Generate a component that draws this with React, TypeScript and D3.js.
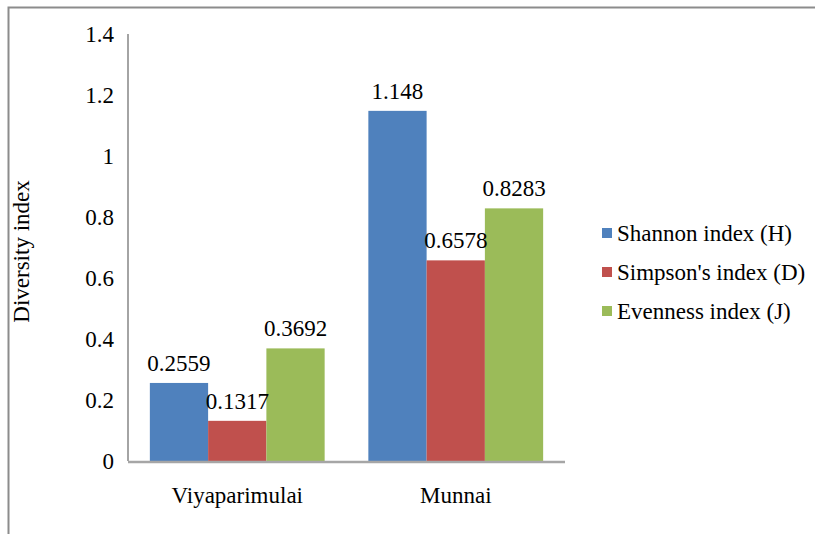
import { useEffect, useRef } from 'react';
import * as d3 from 'd3';

const sites = ['Viyaparimulai', 'Munnai'];
const seriesNames = ['Shannon index (H)', "Simpson's index (D)", 'Evenness index (J)'];
const shannon = [0.2559, 1.148];
const simpson = [0.1317, 0.6578];
const evenness = [0.3692, 0.8283];
const valueLabels = [
  ['0.2559', '1.148'],
  ['0.1317', '0.6578'],
  ['0.3692', '0.8283'],
];
const yTicks = [0, 0.2, 0.4, 0.6, 0.8, 1, 1.2, 1.4];
const colors = ['#4f81bd', '#c0504d', '#9bbb59'];

export default function App() {
  const svgRef = useRef<SVGSVGElement>(null);

  useEffect(() => {
    if (!svgRef.current) return;
    const svg = d3.select(svgRef.current);
    svg.selectAll('*').remove();

    const width = 815;
    const height = 534;
    const font = '"Liberation Serif", "Times New Roman", serif';
    const left = 128;
    const right = 565;
    const top = 34;
    const bottom = 461;

    svg.attr('width', width).attr('height', height);

    // Chart area border (only left + top visible)
    svg.append('rect').attr('width', width).attr('height', height).attr('fill', '#fff');
    svg.append('path')
      .attr('d', `M8.5,${height} V7.5 H${width}`)
      .attr('fill', 'none')
      .attr('stroke', '#8c8c8c')
      .attr('stroke-width', 2);

    const y = d3.scaleLinear().domain([0, 1.4]).range([bottom, top]);
    const x0 = d3.scaleBand<string>().domain(sites).range([left, right]).paddingInner(0.2).paddingOuter(0.1);
    const x1 = d3.scaleBand<number>().domain([0, 1, 2]).range([0, x0.bandwidth()]);

    const series = [shannon, simpson, evenness];

    // Y tick labels
    svg.append('g')
      .selectAll('text')
      .data(yTicks)
      .join('text')
      .attr('x', left - 14)
      .attr('y', d => y(d))
      .attr('dy', '0.35em')
      .attr('text-anchor', 'end')
      .attr('font-family', font)
      .attr('font-size', 23)
      .attr('fill', '#000')
      .text(d => String(d));

    // Bars
    series.forEach((vals, si) => {
      svg.append('g')
        .selectAll('rect')
        .data(vals)
        .join('rect')
        .attr('x', (_, i) => (x0(sites[i]) ?? 0) + (x1(si) ?? 0))
        .attr('y', d => y(d))
        .attr('width', x1.bandwidth())
        .attr('height', d => bottom - y(d))
        .attr('fill', colors[si]);
    });

    // Value labels
    series.forEach((vals, si) => {
      svg.append('g')
        .selectAll('text')
        .data(vals)
        .join('text')
        .attr('x', (_, i) => (x0(sites[i]) ?? 0) + (x1(si) ?? 0) + x1.bandwidth() / 2)
        .attr('y', d => y(d) - 12)
        .attr('text-anchor', 'middle')
        .attr('font-family', font)
        .attr('font-size', 23)
        .attr('fill', '#000')
        .text((_, i) => valueLabels[si][i]);
    });

    // Axes lines
    svg.append('line')
      .attr('x1', left).attr('x2', left)
      .attr('y1', top).attr('y2', bottom)
      .attr('stroke', '#868686').attr('stroke-width', 1.5);
    svg.append('line')
      .attr('x1', left).attr('x2', right)
      .attr('y1', bottom + 1).attr('y2', bottom + 1)
      .attr('stroke', '#a6a6a6').attr('stroke-width', 2.5);

    // Category labels
    svg.append('g')
      .selectAll('text')
      .data(sites)
      .join('text')
      .attr('x', d => (x0(d) ?? 0) + x0.bandwidth() / 2)
      .attr('y', 503)
      .attr('text-anchor', 'middle')
      .attr('font-family', font)
      .attr('font-size', 23)
      .attr('fill', '#000')
      .text(d => d);

    // Y axis title
    svg.append('text')
      .attr('transform', `translate(29,${(top + bottom) / 2 + 4}) rotate(-90)`)
      .attr('text-anchor', 'middle')
      .attr('font-family', font)
      .attr('font-size', 23)
      .attr('fill', '#000')
      .text('Diversity index');

    // Legend
    const legend = svg.append('g').attr('transform', 'translate(602,233)');
    seriesNames.forEach((name, i) => {
      const row = legend.append('g').attr('transform', `translate(0,${i * 39})`);
      row.append('rect')
        .attr('x', 0).attr('y', -5)
        .attr('width', 10).attr('height', 10)
        .attr('fill', colors[i]);
      row.append('text')
        .attr('x', 15)
        .attr('y', 0)
        .attr('dy', '0.35em')
        .attr('font-family', font)
        .attr('font-size', 23)
        .attr('fill', '#000')
        .text(name);
    });
  }, []);

  return <svg ref={svgRef} style={{ display: 'block', position: 'absolute', left: 0, top: 0 }} />;
}
